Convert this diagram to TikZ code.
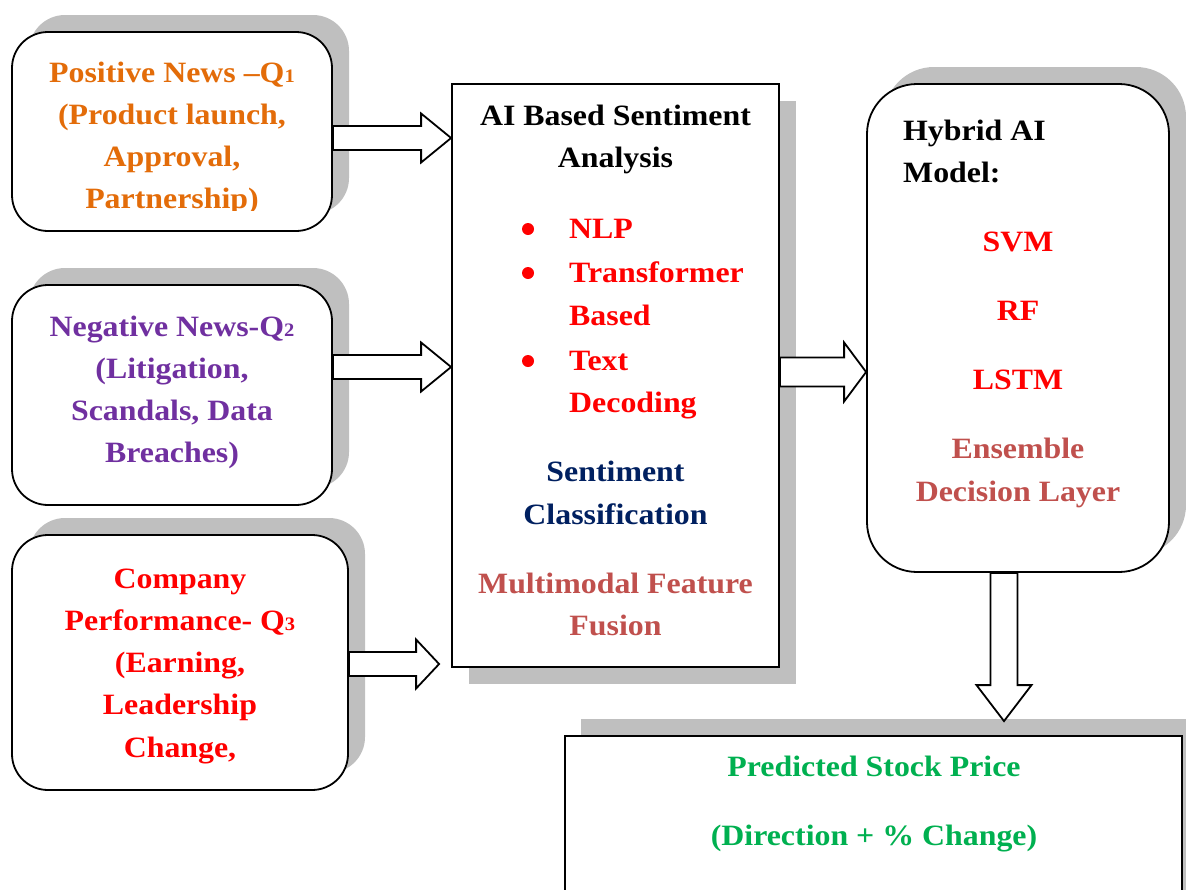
\documentclass[tikz,border=0pt]{standalone}
\usepackage{fontspec}
\setmainfont{Liberation Serif}[FakeStretch=1.08]
\usetikzlibrary{shadows,calc}
\definecolor{shgray}{HTML}{BFBFBF}
\definecolor{orangeT}{HTML}{E36C09}
\definecolor{purpleT}{HTML}{7030A0}
\definecolor{redT}{HTML}{FF0000}
\definecolor{navyT}{HTML}{002060}
\definecolor{roseT}{HTML}{C0504D}
\definecolor{greenT}{HTML}{00B050}
\newcommand\qs[1]{{\fontsize{19}{19}\selectfont #1}}
\newcommand\harrow[6]{%
  \draw[blk] let \p1=(#1), \p2=(#2), \p3=(0,#3) in
   (\x1,{\y3+#4pt}) -- ({\x2-#6pt},{\y3+#4pt}) -- ({\x2-#6pt},{\y3+#5pt}) -- (\x2,\y3)
   -- ({\x2-#6pt},{\y3-#5pt}) -- ({\x2-#6pt},{\y3-#4pt}) -- (\x1,{\y3-#4pt}) -- cycle;}
\newcommand\varrow[6]{%
  \draw[blk] let \p1=(#1), \p2=(#2), \p3=(#3,0) in
   ({\x3-#4pt},\y1) -- ({\x3-#4pt},{\y2+#6pt}) -- ({\x3-#5pt},{\y2+#6pt}) -- (\x3,\y2)
   -- ({\x3+#5pt},{\y2+#6pt}) -- ({\x3+#4pt},{\y2+#6pt}) -- ({\x3+#4pt},\y1) -- cycle;}
\begin{document}
\begin{tikzpicture}[x=1pt,y=-1pt,
  txt/.style={font=\bfseries\fontsize{29.5}{42}\selectfont, inner sep=0pt, anchor=base},
  txtl/.style={txt, anchor=base west},
  rbox/.style={draw=black, line width=1.8pt, fill=white, rounded corners=#1,
    general shadow={fill=shgray, shadow xshift=17pt, shadow yshift=17pt}},
  rbox/.default=36pt,
  sqbox/.style={draw=black, line width=1.8pt, fill=white,
    general shadow={fill=shgray, shadow xshift=17pt, shadow yshift=-17pt}},
  topbox/.style={draw=black, line width=1.8pt, fill=white,
    general shadow={fill=shgray, shadow xshift=16pt, shadow yshift=17pt}},
  blk/.style={draw=black, line width=1.8pt, fill=white, line join=miter},
  bul/.style={circle, fill=redT, inner sep=0pt, minimum size=12pt}]
\useasboundingbox (0,0) rectangle (1186,889);
\begin{scope}
\clip (0,0) rectangle (1186,889);
% boxes
\node[rbox, minimum width=320, minimum height=199] (pos) at (172,131.5) {};
\node[rbox, minimum width=320, minimum height=220] (neg) at (172,395) {};
\node[rbox, minimum width=336, minimum height=255] (perf) at (180,662.5) {};
\node[sqbox, minimum width=327, minimum height=583] (sa) at (615.5,375.5) {};
\node[rbox=50pt, minimum width=302, minimum height=488] (hyb) at (1018,328) {};
\node[topbox, minimum width=617, minimum height=224] (pred) at (873.5,848) {};
% arrows
\harrow{pos.east}{sa.west}{138}{12}{24.5}{30}
\harrow{neg.east}{sa.west}{367}{12}{24.5}{30}
\coordinate (a3end) at ($(sa.west)+(-12,0)$);
\harrow{perf.east}{a3end}{664}{12}{24.5}{23}
\harrow{sa.east}{hyb.west}{372}{14.5}{29.5}{22}
\coordinate (dtip) at ($(pred.north)+(0,-14)$);
\varrow{hyb.south}{dtip}{1004}{13.5}{27.5}{36}
% box 1 text
\node[txt, text=orangeT] (p1) at (172,82) {Positive News –Q\qs{1}};
\node[txt, text=orangeT] (p2) at (172,124) {(Product launch,};
\node[txt, text=orangeT] (p3) at (172,166) {Approval,};
\begin{scope}
\clip (0,0) rectangle (400,210);
\node[txt, text=orangeT] (p4) at (172,208) {Partnership)};
\end{scope}
% box 2 text
\node[txt, text=purpleT] (n1) at (172,336) {Negative News-Q\qs{2}};
\node[txt, text=purpleT] (n2) at (172,378) {(Litigation,};
\node[txt, text=purpleT] (n3) at (172,420) {Scandals, Data};
\node[txt, text=purpleT] (n4) at (172,462) {Breaches)};
% box 3 text
\node[txt, text=redT] (c1) at (180,588) {Company};
\node[txt, text=redT] (c2) at (180,630) {Performance- Q\qs{3}};
\node[txt, text=redT] (c3) at (180,672) {(Earning,};
\node[txt, text=redT] (c4) at (180,714) {Leadership};
\node[txt, text=redT] (c5) at (180,757) {Change,};
% centre box text
\node[txt] (s1) at (615.5,125) {AI Based Sentiment};
\node[txt] (s2) at (615.5,167) {Analysis};
\node[bul] (b1) at (528,229) {};
\node[bul] (b2) at (528,273) {};
\node[bul] (b3) at (528,361) {};
\node[txtl, text=redT] (l1) at (569,238) {NLP};
\node[txtl, text=redT] (l2) at (569,282) {Transformer};
\node[txtl, text=redT] (l3) at (569,325) {Based};
\node[txtl, text=redT] (l4) at (569,370) {Text};
\node[txtl, text=redT] (l5) at (569,412) {Decoding};
\node[txt, text=navyT] (s3) at (615.5,481) {Sentiment};
\node[txt, text=navyT] (s4) at (615.5,524) {Classification};
\node[txt, text=roseT] (s5) at (615.5,593) {Multimodal Feature};
\node[txt, text=roseT] (s6) at (615.5,635) {Fusion};
% hybrid text
\node[txtl] (h1) at (903,140) {Hybrid AI};
\node[txtl] (h2) at (903,182) {Model:};
\node[txt, text=redT] (h3) at (1018,251) {SVM};
\node[txt, text=redT] (h4) at (1018,320) {RF};
\node[txt, text=redT] (h5) at (1018,389) {LSTM};
\node[txt, text=roseT] (h6) at (1018,458) {Ensemble};
\node[txt, text=roseT] (h7) at (1018,501) {Decision Layer};
% prediction text
\node[txt, text=greenT] (r1) at (874,776) {Predicted Stock Price};
\node[txt, text=greenT] (r2) at (874,845) {(Direction + \% Change)};
\end{scope}
\end{tikzpicture}
\end{document}
